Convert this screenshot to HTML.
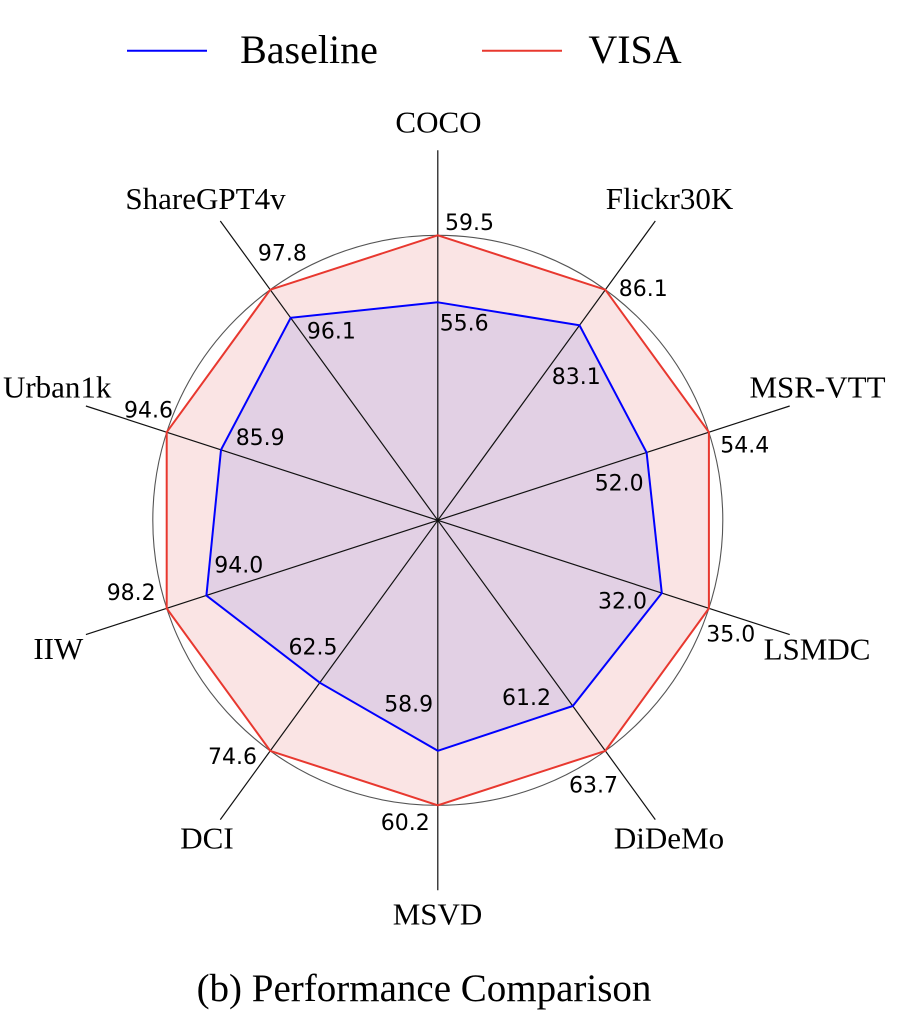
<!DOCTYPE html>
<html>
<head>
<meta charset="utf-8">
<style>
html,body{margin:0;padding:0;background:#fff;}
svg{display:block;}
.v{font-family:"DejaVu Sans","Liberation Sans",sans-serif;font-size:22px;fill:#000;}
.a{font-family:"Liberation Serif",serif;font-size:31px;fill:#000;text-anchor:middle;}
</style>
</head>
<body>
<svg width="897" height="1024" viewBox="0 0 897 1024" xmlns="http://www.w3.org/2000/svg">
<rect width="897" height="1024" fill="#fff"/>
<!-- legend -->
<line x1="127" y1="50.7" x2="207" y2="50.7" stroke="#0000ff" stroke-width="2"/>
<text x="309" y="63" font-family="Liberation Serif, serif" font-size="40" text-anchor="middle">Baseline</text>
<line x1="482" y1="50.7" x2="562" y2="50.7" stroke="#e8382f" stroke-width="2"/>
<text x="635" y="63" font-family="Liberation Serif, serif" font-size="40" text-anchor="middle">VISA</text>

<!-- fills -->
<polygon points="437.8,235.3 605.3,289.7 708.9,432.2 708.9,608.4 605.3,750.9 437.8,805.3 270.3,750.9 166.7,608.4 166.7,432.2 270.3,289.7" fill="#fae4e4" stroke="none"/>
<polygon points="437.8,302.3 579.5,325.3 646.6,452.5 661.8,593.1 572.8,706.0 437.8,750.8 319.8,682.7 206.4,595.5 221.0,449.8 290.7,317.8" fill="#e2d0e4" stroke="none"/>

<!-- circle -->
<circle cx="437.8" cy="520.3" r="285" fill="none" stroke="#555" stroke-width="1.1"/>

<!-- axes -->
<g stroke="#111" stroke-width="1.2">
<line x1="437.8" y1="520.3" x2="437.8" y2="150.3"/>
<line x1="437.8" y1="520.3" x2="655.3" y2="221.0"/>
<line x1="437.8" y1="520.3" x2="789.7" y2="406.0"/>
<line x1="437.8" y1="520.3" x2="789.7" y2="634.6"/>
<line x1="437.8" y1="520.3" x2="655.3" y2="819.6"/>
<line x1="437.8" y1="520.3" x2="437.8" y2="890.3"/>
<line x1="437.8" y1="520.3" x2="220.3" y2="819.6"/>
<line x1="437.8" y1="520.3" x2="85.9" y2="634.6"/>
<line x1="437.8" y1="520.3" x2="85.9" y2="406.0"/>
<line x1="437.8" y1="520.3" x2="220.3" y2="221.0"/>
</g>

<!-- outlines -->
<polygon points="437.8,235.3 605.3,289.7 708.9,432.2 708.9,608.4 605.3,750.9 437.8,805.3 270.3,750.9 166.7,608.4 166.7,432.2 270.3,289.7" fill="none" stroke="#e8382f" stroke-width="2"/>
<polygon points="437.8,302.3 579.5,325.3 646.6,452.5 661.8,593.1 572.8,706.0 437.8,750.8 319.8,682.7 206.4,595.5 221.0,449.8 290.7,317.8" fill="none" stroke="#0000ff" stroke-width="2"/>

<!-- value labels -->
<text class="v" x="445" y="230">59.5</text>
<text class="v" x="439.7" y="330.7">55.6</text>
<text class="v" x="618.8" y="296">86.1</text>
<text class="v" x="551.8" y="384">83.1</text>
<text class="v" x="720.3" y="452.7">54.4</text>
<text class="v" x="594.7" y="490.7">52.0</text>
<text class="v" x="706.3" y="641.7">35.0</text>
<text class="v" x="598" y="608.3">32.0</text>
<text class="v" x="569" y="792.3">63.7</text>
<text class="v" x="502" y="705">61.2</text>
<text class="v" x="380.8" y="830">60.2</text>
<text class="v" x="384.2" y="711.7">58.9</text>
<text class="v" x="208" y="764">74.6</text>
<text class="v" x="288.5" y="654.3">62.5</text>
<text class="v" x="106.7" y="600">98.2</text>
<text class="v" x="214.3" y="572.5">94.0</text>
<text class="v" x="124" y="417.7">94.6</text>
<text class="v" x="235.7" y="445">85.9</text>
<text class="v" x="257.9" y="260.7">97.8</text>
<text class="v" x="306.9" y="338.3">96.1</text>

<!-- axis labels -->
<text class="a" x="438.5" y="132.7">COCO</text>
<text class="a" x="669.5" y="209">Flickr30K</text>
<text class="a" x="817.5" y="397.3">MSR-VTT</text>
<text class="a" x="817" y="659.3">LSMDC</text>
<text class="a" x="669" y="848.3">DiDeMo</text>
<text class="a" x="437.5" y="924.3">MSVD</text>
<text class="a" x="207" y="848.3">DCI</text>
<text class="a" x="58.3" y="659">IIW</text>
<text class="a" x="57.2" y="397.3">Urban1k</text>
<text class="a" x="205.5" y="209">ShareGPT4v</text>

<!-- title -->
<text x="424" y="1001" font-family="Liberation Serif, serif" font-size="39" text-anchor="middle">(b) Performance Comparison</text>
</svg>
</body>
</html>
